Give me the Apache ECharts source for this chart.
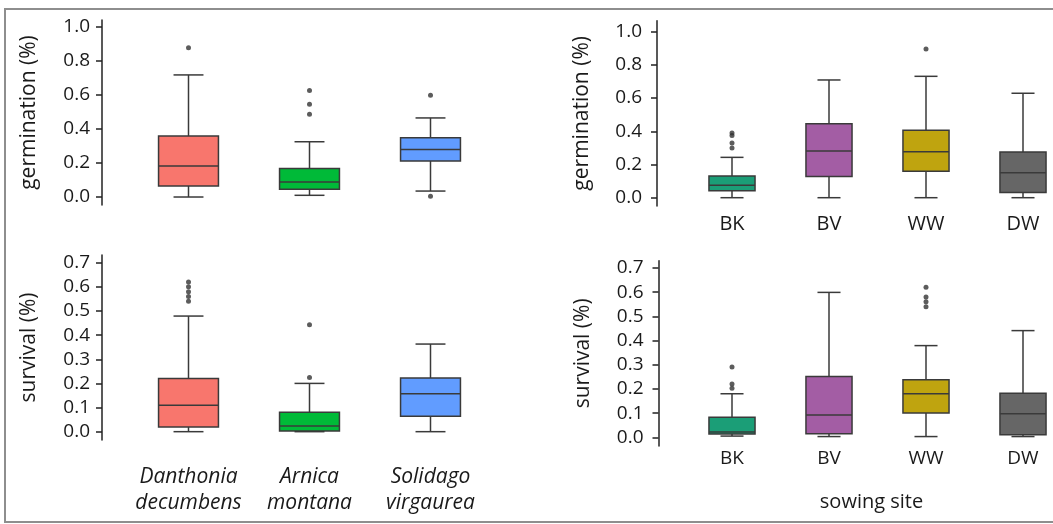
<!DOCTYPE html>
<html>
<head>
<meta charset="utf-8">
<script src="https://cdn.jsdelivr.net/npm/echarts@6/dist/echarts.min.js"></script>
<style>
html,body{margin:0;padding:0;background:#fff;}
#chart{width:1053px;height:524px;}
</style>
</head>
<body>
<div id="chart"></div>
<script>
// ---- data ----
const speciesCats = ['Danthonia\ndecumbens', 'Arnica\nmontana', 'Solidago\nvirgaurea'];
const siteCats = ['BK', 'BV', 'WW', 'DW'];
const germTicks = [0, 0.2, 0.4, 0.6, 0.8, 1.0];
const survTicks = [0, 0.1, 0.2, 0.3, 0.4, 0.5, 0.6, 0.7];

// box values: [lower whisker, Q1, median, Q3, upper whisker]
const germSpeciesBox = [
  [0.000, 0.065, 0.182, 0.359, 0.718],
  [0.010, 0.045, 0.088, 0.167, 0.325],
  [0.035, 0.212, 0.280, 0.349, 0.465]
];
const germSpeciesOut = [[0, 0.878], [1, 0.627], [1, 0.545], [1, 0.486], [2, 0.598], [2, 0.004]];

const survSpeciesBox = [
  [0.000, 0.019, 0.109, 0.220, 0.479],
  [0.000, 0.003, 0.023, 0.080, 0.200],
  [0.000, 0.064, 0.157, 0.222, 0.363]
];
const survSpeciesOut = [[0, 0.54], [0, 0.56], [0, 0.58], [0, 0.60], [0, 0.62], [1, 0.224], [1, 0.443]];

const germSiteBox = [
  [0.000, 0.042, 0.075, 0.130, 0.243],
  [0.000, 0.127, 0.281, 0.446, 0.709],
  [0.000, 0.159, 0.277, 0.406, 0.731],
  [0.000, 0.032, 0.151, 0.275, 0.629]
];
const germSiteOut = [[0, 0.39], [0, 0.375], [0, 0.33], [0, 0.30], [2, 0.896]];

const survSiteBox = [
  [0.005, 0.014, 0.022, 0.083, 0.180],
  [0.003, 0.015, 0.092, 0.251, 0.599],
  [0.003, 0.100, 0.180, 0.238, 0.379],
  [0.003, 0.011, 0.097, 0.182, 0.441]
];
const survSiteOut = [[0, 0.291], [0, 0.220], [0, 0.203], [2, 0.62], [2, 0.58], [2, 0.56], [2, 0.54]];

// ---- styles ----
const speciesColors = ['#F8766D', '#00BA38', '#619CFF'];
const siteColors = ['#1B9E77', '#A35DA4', '#BFA40F', '#666666'];
const edge = '#3a3a3a';
const FONT = 'Open Sans';

function boxRender(colors, frac) {
  return function (params, api) {
    const x = api.value(0);
    const lo = api.coord([x, api.value(1)]);
    const q1 = api.coord([x, api.value(2)]);
    const md = api.coord([x, api.value(3)]);
    const q3 = api.coord([x, api.value(4)]);
    const hi = api.coord([x, api.value(5)]);
    const band = api.size([1, 0])[0];
    const w = band * frac;
    const cw = w / 2;
    const cx = lo[0];
    const ls = { stroke: edge, lineWidth: 1.5 };
    return {
      type: 'group',
      children: [
        { type: 'line', shape: { x1: cx, y1: hi[1], x2: cx, y2: q3[1] }, style: ls },
        { type: 'line', shape: { x1: cx, y1: q1[1], x2: cx, y2: lo[1] }, style: ls },
        { type: 'line', shape: { x1: cx - cw / 2, y1: hi[1], x2: cx + cw / 2, y2: hi[1] }, style: ls },
        { type: 'line', shape: { x1: cx - cw / 2, y1: lo[1], x2: cx + cw / 2, y2: lo[1] }, style: ls },
        { type: 'rect', shape: { x: cx - w / 2, y: q3[1], width: w, height: q1[1] - q3[1] },
          style: { fill: colors[params.dataIndex], stroke: edge, lineWidth: 1.5 } },
        { type: 'line', shape: { x1: cx - w / 2, y1: md[1], x2: cx + w / 2, y2: md[1] }, style: ls }
      ]
    };
  };
}

function boxData(arr) { return arr.map((v, i) => [i].concat(v)); }

function yAxis(grid, min, max, ticks, name, offset, margin, nameGap) {
  return {
    type: 'value', gridIndex: grid, min: min, max: max, offset: offset,
    splitLine: { show: false },
    axisLine: { show: true, lineStyle: { color: '#222', width: 1.5 } },
    axisTick: { show: true, length: 6, customValues: ticks, lineStyle: { color: '#222', width: 1.5 } },
    axisLabel: { customValues: ticks, formatter: v => v.toFixed(1), fontSize: 19, fontFamily: FONT, color: '#1a1a1a', margin: margin },
    name: name, nameLocation: 'middle', nameGap: nameGap, nameRotate: 90,
    nameTextStyle: { fontSize: 21, fontFamily: FONT, color: '#1a1a1a' }
  };
}

function xAxis(grid, cats, labelOpt, extra) {
  return Object.assign({
    type: 'category', gridIndex: grid, data: cats, boundaryGap: true,
    axisLine: { show: false, onZero: false },
    axisTick: { show: false },
    axisLabel: labelOpt
  }, extra || {});
}

const chart = echarts.init(document.getElementById('chart'), null, { renderer: 'canvas' });
const option = {
  backgroundColor: '#fff',
  animation: false,
  graphic: [{
    type: 'rect', z: -1, silent: true,
    shape: { x: 5, y: 9, width: 1100, height: 513 },
    style: { fill: 'none', stroke: '#8e8e8e', lineWidth: 2 }
  }],
  grid: [
    { left: 128, top: 20, width: 363, height: 185, outerBoundsMode: 'none', containLabel: false },
    { left: 128, top: 255, width: 363, height: 185, outerBoundsMode: 'none', containLabel: false },
    { left: 683.5, top: 20.7, width: 388, height: 185.3, outerBoundsMode: 'none', containLabel: false },
    { left: 683.5, top: 260.7, width: 388, height: 185.3, outerBoundsMode: 'none', containLabel: false }
  ],
  xAxis: [
    xAxis(0, speciesCats, { show: false }),
    xAxis(1, speciesCats, { show: true, interval: 0, fontSize: 21, fontStyle: 'italic', fontFamily: FONT, color: '#1a1a1a', lineHeight: 26, margin: 24 }),
    xAxis(2, siteCats, { show: true, interval: 0, fontSize: 20, fontFamily: FONT, color: '#1a1a1a', margin: 8 }),
    xAxis(3, siteCats, { show: true, interval: 0, fontSize: 19, fontFamily: FONT, color: '#1a1a1a', margin: 3 },
      { name: 'sowing site', nameLocation: 'middle', nameGap: 46,
        nameTextStyle: { fontSize: 20, fontFamily: FONT, color: '#1a1a1a', padding: [0, 12, 0, 0] } })
  ],
  yAxis: [
    yAxis(0, -0.047, 1.041, germTicks, 'germination (%)', 26, 12, 62),
    yAxis(1, -0.0345, 0.732, survTicks, 'survival (%)', 26, 12, 62),
    yAxis(2, -0.05, 1.066, germTicks, 'germination (%)', 26.5, 15, 64),
    yAxis(3, -0.036, 0.730, survTicks, 'survival (%)', 25, 15, 65)
  ],
  series: [
    { type: 'custom', xAxisIndex: 0, yAxisIndex: 0, data: boxData(germSpeciesBox), encode: { x: 0, y: [1, 2, 3, 4, 5] }, renderItem: boxRender(speciesColors, 0.495) },
    { type: 'custom', xAxisIndex: 1, yAxisIndex: 1, data: boxData(survSpeciesBox), encode: { x: 0, y: [1, 2, 3, 4, 5] }, renderItem: boxRender(speciesColors, 0.495) },
    { type: 'custom', xAxisIndex: 2, yAxisIndex: 2, data: boxData(germSiteBox), encode: { x: 0, y: [1, 2, 3, 4, 5] }, renderItem: boxRender(siteColors, 0.475) },
    { type: 'custom', xAxisIndex: 3, yAxisIndex: 3, data: boxData(survSiteBox), encode: { x: 0, y: [1, 2, 3, 4, 5] }, renderItem: boxRender(siteColors, 0.475) },
    { type: 'scatter', xAxisIndex: 0, yAxisIndex: 0, data: germSpeciesOut, symbolSize: 5, itemStyle: { color: '#333' } },
    { type: 'scatter', xAxisIndex: 1, yAxisIndex: 1, data: survSpeciesOut, symbolSize: 5, itemStyle: { color: '#333' } },
    { type: 'scatter', xAxisIndex: 2, yAxisIndex: 2, data: germSiteOut, symbolSize: 5, itemStyle: { color: '#333' } },
    { type: 'scatter', xAxisIndex: 3, yAxisIndex: 3, data: survSiteOut, symbolSize: 5, itemStyle: { color: '#333' } }
  ]
};
chart.setOption(option);
</script>
</body>
</html>
